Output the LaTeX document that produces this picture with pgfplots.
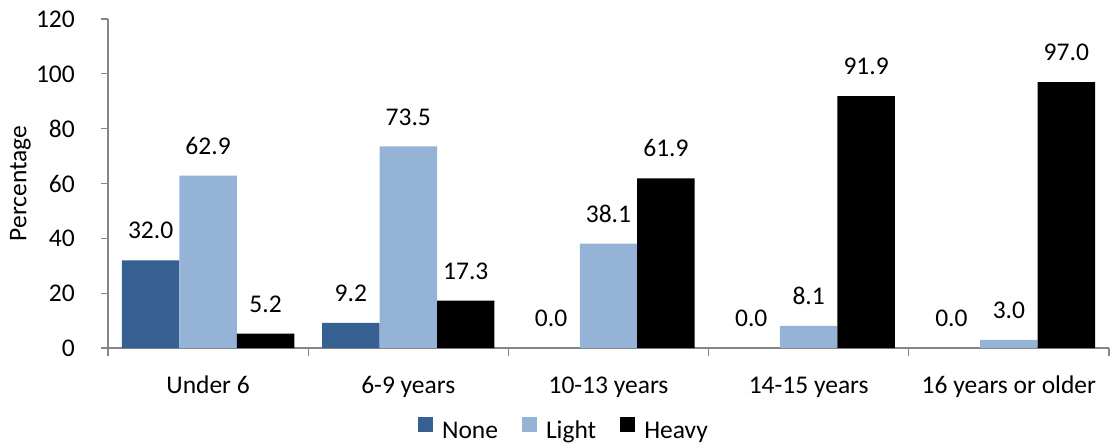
\documentclass[border=0pt]{standalone}
\usepackage{pgfplots}
\pgfplotsset{compat=1.18}
\usepackage{fontspec}
\setmainfont{Carlito}

\definecolor{noneblue}{RGB}{55,96,146}
\definecolor{lightblue}{RGB}{149,179,215}
\definecolor{axisgray}{RGB}{134,134,134}

\newcommand{\chartfont}{\fontsize{25.5}{30}\selectfont}

\begin{document}
\begin{tikzpicture}[x=1pt,y=1pt]
\useasboundingbox (0,0) rectangle (1110,445);
\begin{axis}[
  at={(108pt,97pt)}, anchor=south west,
  scale only axis,
  width=1001pt, height=329pt,
  xmin=-0.5, xmax=4.5,
  ymin=0, ymax=120,
  ytick={0,20,...,120},
  xtick={0,1,2,3,4},
  xticklabels={Under 6, 6-9 years, 10-13 years, 14-15 years, 16 years or older},
  minor xtick={-0.5,0.5,1.5,2.5,3.5,4.5},
  axis x line*=bottom, axis y line*=left,
  axis line style={-, draw=axisgray, line width=1.3pt},
  tick align=outside,
  major tick length=7pt, minor tick length=8pt,
  major x tick style={draw=none},
  every tick/.style={draw=axisgray, line width=1.3pt},
  minor x tick style={draw=axisgray, line width=1.3pt},
  /pgf/number format/assume math mode=true,
  yticklabel style={font=\chartfont, anchor=east, inner sep=0pt, xshift=-26pt},
  xticklabel style={font=\chartfont, anchor=base, inner sep=0pt, yshift=-38pt},
  ylabel={Percentage},
  ylabel style={font=\chartfont, at={(axis description cs:-0.0875,0.5)}, anchor=center},
  ybar=0pt, bar width=0.287,
  clip=false,
  nodes near coords,
  point meta=y,
  nodes near coords style={font=\chartfont, anchor=south, inner sep=0pt, yshift=21pt,
    /pgf/number format/.cd, fixed, fixed zerofill, precision=1, assume math mode=true},
  legend style={draw=none, fill=none, font=\chartfont,
    at={(axis description cs:0.4555,-0.2477)}, anchor=center,
    /tikz/every odd column/.append style={column sep=7pt},
    /tikz/every even column/.append style={column sep=22pt},
    cells={anchor=west, inner sep=0pt}},
  legend columns=3,
  legend image code/.code={\fill[#1] (0pt,-1pt) rectangle (15pt,14pt);},
]
\addplot[fill=noneblue, draw=none, bar shift=-0.287] coordinates
  {(0,32.0) (1,9.2) (2,0.0) (3,0.0) (4,0.0)};
\addplot[fill=lightblue, draw=none, bar shift=0] coordinates
  {(0,62.9) (1,73.5) (2,38.1) (3,8.1) (4,3.0)};
\addplot[fill=black, draw=none, bar shift=0.287] coordinates
  {(0,5.2) (1,17.3) (2,61.9) (3,91.9) (4,97.0)};
\legend{None, Light, Heavy}
\end{axis}
\end{tikzpicture}
\end{document}
